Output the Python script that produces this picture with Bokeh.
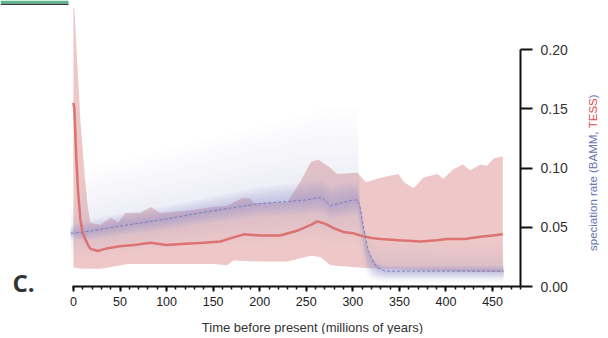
import numpy as np
from bokeh.plotting import figure
from bokeh.models import Range1d, FixedTicker, Label, NumeralTickFormatter, BoxAnnotation
from bokeh.embed import file_html
from bokeh.resources import INLINE

# ---------------- data ----------------
# TESS speciation rate (red): median line
tess_time = [0, 1, 3, 5, 7.5, 10, 15, 18, 26, 35, 50, 65, 83, 100, 120, 140, 158, 170, 183,
             200, 222, 240, 255, 262, 270, 280, 290, 300, 308, 320, 330, 350, 373, 390,
             401, 420, 437, 450, 461]
tess_rate = [0.155, 0.150, 0.110, 0.080, 0.056, 0.045, 0.036, 0.032, 0.030, 0.032, 0.034,
             0.035, 0.037, 0.035, 0.036, 0.037, 0.038, 0.041, 0.044, 0.043, 0.043, 0.047,
             0.052, 0.055, 0.053, 0.049, 0.046, 0.045, 0.043, 0.041, 0.040, 0.039, 0.038,
             0.039, 0.040, 0.040, 0.042, 0.043, 0.044]
# TESS credible interval, upper edge
tess_hi_time = [0, 1, 7.5, 12, 15, 18, 22, 29, 40, 48, 56, 72, 83, 93, 122, 150, 165, 182,
                190, 194, 230, 244, 255, 263, 276, 283, 305, 314, 326, 337, 349, 355, 365,
                376, 391, 397, 408, 418, 426, 437, 444, 451, 461]
tess_hi = [0.235, 0.235, 0.140, 0.095, 0.070, 0.054, 0.053, 0.052, 0.058, 0.054, 0.062,
           0.062, 0.067, 0.062, 0.064, 0.067, 0.068, 0.075, 0.074, 0.070, 0.071, 0.089,
           0.105, 0.107, 0.100, 0.095, 0.096, 0.088, 0.091, 0.093, 0.095, 0.088, 0.083,
           0.092, 0.095, 0.091, 0.099, 0.103, 0.098, 0.103, 0.102, 0.108, 0.110]
# TESS credible interval, lower edge
tess_lo_time = [0, 10, 30, 45, 58, 100, 150, 165, 172, 200, 230, 245, 255, 265, 276, 305,
                330, 400, 461]
tess_lo = [0.016, 0.015, 0.015, 0.017, 0.019, 0.019, 0.019, 0.018, 0.022, 0.021, 0.021,
           0.024, 0.026, 0.025, 0.018, 0.016, 0.015, 0.013, 0.012]

# BAMM speciation rate (blue): mean and two quantile envelopes
bamm_time = [-3, 0, 10, 20, 50, 100, 150, 200, 250, 262, 268, 276, 285, 300, 305, 308,
             312, 316, 320, 326, 335, 360, 400, 462]
bamm_mean = [0.045, 0.045, 0.046, 0.047, 0.051, 0.057, 0.064, 0.070, 0.073, 0.075, 0.074,
             0.068, 0.070, 0.073, 0.073, 0.066, 0.048, 0.032, 0.024, 0.016, 0.013, 0.013,
             0.013, 0.013]
bamm_hi50 = [0.050, 0.052, 0.055, 0.057, 0.062, 0.068, 0.076, 0.084, 0.088, 0.090, 0.089,
             0.085, 0.087, 0.088, 0.088, 0.068, 0.045, 0.030, 0.025, 0.020, 0.018, 0.018,
             0.018, 0.018]
bamm_lo50 = [0.040, 0.040, 0.039, 0.040, 0.043, 0.048, 0.054, 0.059, 0.061, 0.062, 0.061,
             0.057, 0.058, 0.060, 0.060, 0.050, 0.030, 0.015, 0.010, 0.008, 0.007, 0.007,
             0.007, 0.007]
bamm_hi95 = [0.060, 0.075, 0.092, 0.100, 0.105, 0.115, 0.125, 0.135, 0.145, 0.148, 0.150,
             0.150, 0.150, 0.150, 0.150, 0.070, 0.055, 0.048, 0.045, 0.042, 0.040, 0.038,
             0.036, 0.036]
bamm_lo95 = [0.025, 0.024, 0.025, 0.026, 0.028, 0.032, 0.035, 0.036, 0.037, 0.038, 0.037,
             0.034, 0.035, 0.036, 0.036, 0.030, 0.015, 0.008, 0.005, 0.004, 0.003, 0.003,
             0.003, 0.003]

x_major = [0, 50, 100, 150, 200, 250, 300, 350, 400, 450]
y_major = [0.0, 0.05, 0.10, 0.15, 0.20]

# ---------------- figure ----------------
W, H = 604, 334
SX, X0 = 0.9314, 72.93      # px per Myr, pixel of t=0
SY, Y0 = 1185.0, 286.0      # px per rate unit, pixel of rate=0
FONT = "Liberation Sans"

p = figure(width=W, height=H,
           x_range=Range1d(-X0 / SX, (W - X0) / SX),
           y_range=Range1d((Y0 - H) / SY, Y0 / SY),
           output_backend="svg", toolbar_location=None, y_axis_location="right",
           min_border=0, min_border_left=0, min_border_right=0,
           min_border_top=0, min_border_bottom=0)
p.outline_line_color = None
p.grid.visible = False
p.background_fill_color = "white"

# fragment of the neighbouring panel (top-left edge of the page)
p.add_layout(BoxAnnotation(left=-X0 / SX, right=(68 - X0) / SX, top=Y0 / SY,
                           bottom=(Y0 - 3.2) / SY, fill_color="#5cb68f", fill_alpha=1,
                           line_color=None))
p.add_layout(BoxAnnotation(left=-X0 / SX, right=(68 - X0) / SX, top=(Y0 - 3.2) / SY,
                           bottom=(Y0 - 4.6) / SY, fill_color="#3a3a3a", fill_alpha=1,
                           line_color=None))

# TESS band
p.patch(x=tess_hi_time + tess_lo_time[::-1], y=tess_hi + tess_lo[::-1],
        fill_color="#eec8c8", fill_alpha=1.0, line_color=None)

# BAMM density: stacked translucent envelopes
m = np.array(bamm_mean); h5 = np.array(bamm_hi50); l5 = np.array(bamm_lo50)
h9 = np.array(bamm_hi95); l9 = np.array(bamm_lo95)
N = 8
for k in range(N):          # outer half (faint)
    g = 1 - k / N
    lo = l5 + (l9 - l5) * g
    hi = h5 + (h9 - h5) * g
    p.varea(x=bamm_time, y1=lo, y2=hi, fill_color="#8a90cc", fill_alpha=0.018)
for k in range(N):          # inner half (denser)
    g = 1 - k / N
    lo = m + (l5 - m) * g
    hi = m + (h5 - m) * g
    p.varea(x=bamm_time, y1=lo, y2=hi, fill_color="#8088c8", fill_alpha=0.06)

# lines
p.line(x=tess_time, y=tess_rate, line_color="#dc7272", line_width=2.5)
p.line(x=bamm_time, y=bamm_mean, line_color="#7078b4", line_width=1, line_dash="3 2",
       line_alpha=0.85)

# x axis
xa = p.xaxis[0]
xa.fixed_location = 0
xa.ticker = FixedTicker(ticks=x_major, minor_ticks=list(range(0, 481, 10)))
xa.bounds = (-1, 480)
xa.axis_line_width = 2
xa.axis_line_color = "#111111"
xa.major_tick_line_width = 2
xa.major_tick_line_color = "#111111"
xa.minor_tick_line_width = 1.5
xa.minor_tick_line_color = "#111111"
xa.major_tick_in = 0
xa.major_tick_out = 5
xa.minor_tick_in = 0
xa.minor_tick_out = 3
xa.major_label_text_font = FONT
xa.major_label_text_font_size = "12.5px"
xa.major_label_text_color = "#222222"
xa.major_label_standoff = 5

# y axis (right)
ya = p.yaxis[0]
ya.fixed_location = 480
ya.ticker = FixedTicker(ticks=y_major, minor_ticks=[])
ya.formatter = NumeralTickFormatter(format="0.00")
ya.bounds = (0, 0.2)
ya.axis_line_width = 2
ya.axis_line_color = "#111111"
ya.major_tick_line_width = 2
ya.major_tick_line_color = "#111111"
ya.major_tick_in = 0
ya.major_tick_out = 12
ya.minor_tick_out = 0
ya.minor_tick_in = 0
ya.major_label_text_font = FONT
ya.major_label_text_font_size = "14px"
ya.major_label_text_color = "#333333"
ya.major_label_standoff = 8

# texts
p.add_layout(Label(x=(312 - X0) / SX, y=(Y0 - 326.5) / SY,
                   text="Time before present (millions of years)",
                   text_font=FONT, text_font_size="13px", text_color="#333333",
                   text_align="center", text_baseline="alphabetic"))
p.add_layout(Label(x=(12 - X0) / SX, y=(Y0 - 281.5) / SY, text="C.", text_font="Open Sans",
                   text_font_style="bold", text_font_size="24px", text_color="#333333",
                   text_align="left", text_baseline="alphabetic"))
rx = (592 - X0) / SX
for txt, py, col in [("speciation rate (BAMM,", 250.5, "#6b74b8"),
                     ("TESS", 127.8, "#e5484d"),
                     (")", 97.8, "#6b74b8")]:
    p.add_layout(Label(x=rx, y=(Y0 - py) / SY, text=txt, angle=np.pi / 2,
                       text_font=FONT, text_font_size="11.5px", text_color=col,
                       text_align="left", text_baseline="middle"))

open("out.html", "w").write(file_html(p, INLINE))
